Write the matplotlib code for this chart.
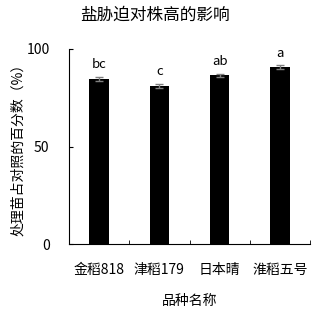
import matplotlib
matplotlib.use("Agg")
import matplotlib.pyplot as plt

plt.rcParams['font.family'] = ['Noto Sans CJK SC', 'DejaVu Sans']

varieties = ['金稻818', '津稻179', '日本晴', '淮稻五号']
values = [84.5, 81.0, 86.6, 90.8]
errors = [1.0, 0.9, 0.8, 0.8]
letters = ['bc', 'c', 'ab', 'a']

fig = plt.figure(figsize=(3.13, 3.11), dpi=100)
ax = fig.add_axes([69 / 313, (311 - 244) / 311, (310 - 69) / 313, 195 / 311])

x = list(range(len(varieties)))
ax.bar(x, values, width=0.32, color='black', zorder=2)
ax.errorbar(x, values, yerr=errors, fmt='none', ecolor='#808080',
            elinewidth=1, capsize=3, capthick=1, zorder=3)
for xi, v, e, t in zip(x, values, errors, letters):
    ax.text(xi, v + e + 3, t, ha='center', va='bottom', fontsize=9.5)

ax.set_xlim(-0.5, len(varieties) - 0.5)
ax.set_ylim(0, 100)
ax.set_yticks([0, 50, 100])
ax.set_xticks(x)
ax.set_xticklabels(varieties, fontsize=10)
ax.set_xticks([i + 0.5 for i in x], minor=True)
ax.tick_params(axis='x', which='major', length=0, pad=14)
ax.tick_params(axis='x', which='minor', direction='in', length=3)
ax.tick_params(axis='y', direction='in', length=3, labelsize=10, pad=14)
for s in ['top', 'right']:
    ax.spines[s].set_visible(False)

ax.set_xlabel('品种名称', fontsize=10, labelpad=12)
ax.set_ylabel('处理苗占对照的百分数（%）', fontsize=10, labelpad=1)
fig.text(155 / 313, 1 - 15 / 311, '盐胁迫对株高的影响', ha='center', va='center', fontsize=12)

fig.savefig('out.png', dpi=100)
